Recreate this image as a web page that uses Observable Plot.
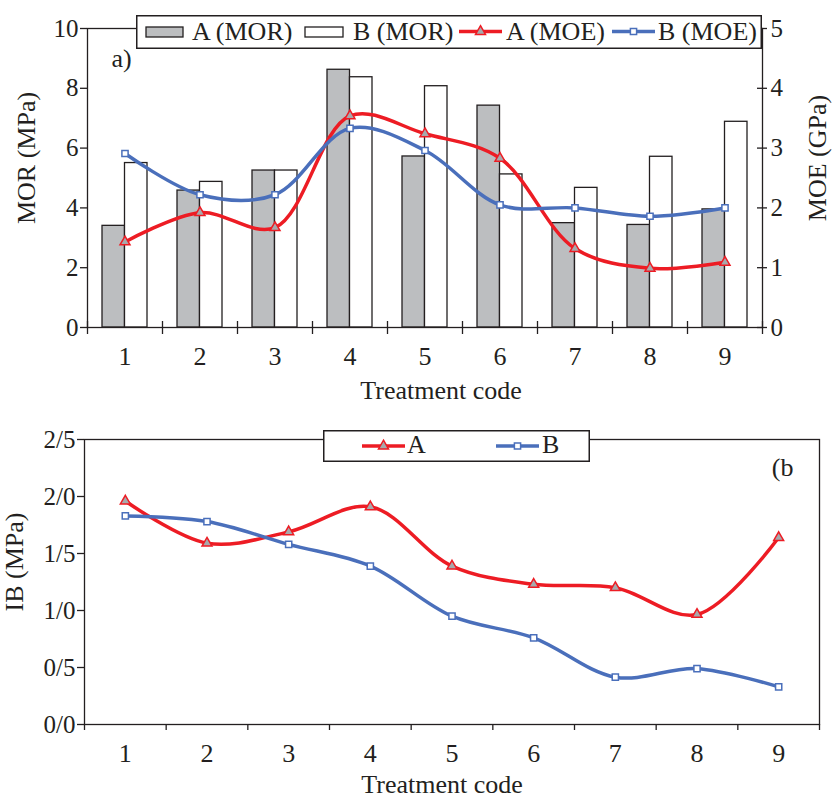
<!DOCTYPE html>
<html><head><meta charset="utf-8">
<script src="https://cdn.jsdelivr.net/npm/d3@7"></script>
<script src="https://cdn.jsdelivr.net/npm/@observablehq/plot@0.6"></script>
<style>
body{margin:0;background:#fff;}
#wrap{position:relative;width:832px;height:798px;font-family:"Liberation Serif","Times New Roman",serif;color:#231f20;}
#wrap > svg{display:block;}
.leg{position:absolute;overflow:visible;}
</style></head><body><div id="wrap"></div>
<script>
// ---- data ----
const codes = [1, 2, 3, 4, 5, 6, 7, 8, 9];
const morA = [3.4, 4.58, 5.25, 8.62, 5.72, 7.42, 3.49, 3.43, 3.95];
const morB = [5.5, 4.87, 5.25, 8.37, 8.07, 5.12, 4.67, 5.71, 6.88];
const moeA = [1.43, 1.92, 1.67, 3.54, 3.24, 2.83, 1.32, 0.99, 1.09];
const moeB = [2.91, 2.22, 2.22, 3.33, 2.96, 2.05, 2.0, 1.86, 2.0];
const ibA = [1.96, 1.59, 1.69, 1.91, 1.39, 1.23, 1.20, 0.965, 1.64];
const ibB = [1.83, 1.78, 1.58, 1.39, 0.95, 0.76, 0.415, 0.49, 0.33];
const morTicks = [0, 2, 4, 6, 8, 10];
const moeTicks = [0, 1, 2, 3, 4, 5];
const ibTicks = [0, 0.5, 1, 1.5, 2, 2.5];
const ibTickLabels = ["0/0", "0/5", "1/0", "1/5", "2/0", "2/5"];
const topLegend = ["A (MOR)", "B (MOR)", "A (MOE)", "B (MOE)"];
const botLegend = ["A", "B"];

// ---- style ----
const INK = "#231f20", RED = "#ed1c24", BLUE = "#4a6fbb", GRAY = "#bcbec0", TRI = "#a7a9ac";
const FONT = '"Liberation Serif","Times New Roman",serif';
const FS = 26;

const boundaries = codes.map(c => c - 0.5).concat([codes[codes.length - 1] + 0.5]);
const rowsMor = codes.map((c, i) => ({code: c, A: morA[i], B: morB[i]}));
const rowsMoeA = codes.map((c, i) => ({code: c, v: moeA[i]}));
const rowsMoeB = codes.map((c, i) => ({code: c, v: moeB[i]}));
const rowsIbA = codes.map((c, i) => ({code: c, v: ibA[i]}));
const rowsIbB = codes.map((c, i) => ({code: c, v: ibB[i]}));

const wrap = document.getElementById("wrap");

const topChart = Plot.plot({
  width: 832, height: 410,
  marginTop: 28, marginBottom: 83, marginLeft: 87, marginRight: 70,
  x: {domain: [0.5, 9.5]},
  y: {domain: [0, 10]},
  style: {fontFamily: FONT, fontSize: FS + "px", color: INK, background: "#fff"},
  marks: [
    Plot.rectY(rowsMor, {x1: d => d.code - 0.3, x2: d => d.code, y1: 0, y2: "A", fill: GRAY, stroke: INK, strokeWidth: 1.3}),
    Plot.rectY(rowsMor, {x1: d => d.code, x2: d => d.code + 0.3, y1: 0, y2: "B", fill: "#fff", stroke: INK, strokeWidth: 1.3}),
    Plot.frame({stroke: INK, strokeWidth: 1.3}),
    Plot.axisY(morTicks, {anchor: "left", tickSize: 7, tickPadding: 2, fontSize: 25, stroke: INK, strokeWidth: 1.3, label: null}),
    Plot.axisY(moeTicks.map(t => t * 2), {anchor: "right", tickSize: 0, tickPadding: 8, fontSize: 25, tickFormat: d => String(d / 2), label: null}),
    Plot.ruleY(moeTicks.map(t => t * 2), {y: d => d, x1: 9.5, x2: 9.5, insetLeft: -5, insetRight: -5, stroke: INK, strokeWidth: 1.3}),
    Plot.ruleX(boundaries, {x: d => d, y1: 0, y2: 0, insetTop: -6, insetBottom: -7, stroke: INK, strokeWidth: 1.3}),
    Plot.axisX(codes, {tickSize: 0, tickPadding: 19, fontSize: FS, label: null}),
    Plot.line(rowsMoeA, {x: "code", y: d => d.v * 2, curve: "catmull-rom", stroke: RED, strokeWidth: 3.5}),
    Plot.line(rowsMoeB, {x: "code", y: d => d.v * 2, curve: "catmull-rom", stroke: BLUE, strokeWidth: 3.5}),
    Plot.dot(rowsMoeA, {x: "code", y: d => d.v * 2, symbol: "triangle", r: 3.7, fill: TRI, stroke: RED, strokeWidth: 1.5}),
    Plot.dot(rowsMoeB, {x: "code", y: d => d.v * 2, symbol: "square", r: 3.5, fill: "#fff", stroke: BLUE, strokeWidth: 1.5}),
    Plot.text(["MOR (MPa)"], {frameAnchor: "left", text: d => d, rotate: -90, textAnchor: "middle", lineAnchor: "middle", dx: -61, dy: -20, fontSize: FS, fill: INK}),
    Plot.text(["MOE (GPa)"], {frameAnchor: "right", text: d => d, rotate: -90, textAnchor: "middle", lineAnchor: "middle", dx: 55, dy: -20, fontSize: FS, fill: INK}),
    Plot.text(["Treatment code"], {frameAnchor: "bottom", text: d => d, lineAnchor: "middle", dx: 16, dy: 63, fontSize: FS, fill: INK}),
    Plot.text(["a)"], {frameAnchor: "top-left", text: d => d, textAnchor: "start", lineAnchor: "middle", dx: 24, dy: 30, fontSize: FS, fill: INK})
  ]
});
wrap.appendChild(topChart);

const botChart = Plot.plot({
  width: 832, height: 388,
  marginTop: 29, marginBottom: 74, marginLeft: 84, marginRight: 13,
  x: {domain: [0.5, 9.5]},
  y: {domain: [0, 2.5]},
  style: {fontFamily: FONT, fontSize: FS + "px", color: INK, background: "#fff"},
  marks: [
    Plot.frame({stroke: INK, strokeWidth: 1.3}),
    Plot.axisY(ibTicks, {anchor: "left", tickSize: 7, tickPadding: 2, fontSize: 25, stroke: INK, strokeWidth: 1.3,
      tickFormat: d => ibTickLabels[ibTicks.indexOf(d)], label: null}),
    Plot.axisX(boundaries, {tickSize: 6, tickFormat: () => "", stroke: INK, strokeWidth: 1.3, label: null}),
    Plot.axisX(codes, {tickSize: 0, tickPadding: 19, fontSize: FS, label: null}),
    Plot.line(rowsIbA, {x: "code", y: "v", curve: "catmull-rom", stroke: RED, strokeWidth: 3.5}),
    Plot.line(rowsIbB, {x: "code", y: "v", curve: "catmull-rom", stroke: BLUE, strokeWidth: 3.5}),
    Plot.dot(rowsIbA, {x: "code", y: "v", symbol: "triangle", r: 3.7, fill: TRI, stroke: RED, strokeWidth: 1.5}),
    Plot.dot(rowsIbB, {x: "code", y: "v", symbol: "square", r: 3.5, fill: "#fff", stroke: BLUE, strokeWidth: 1.5}),
    Plot.text(["IB (MPa)"], {frameAnchor: "left", text: d => d, rotate: -90, textAnchor: "middle", lineAnchor: "middle", dx: -70, dy: -20, fontSize: FS, fill: INK}),
    Plot.text(["Treatment code"], {frameAnchor: "bottom", text: d => d, lineAnchor: "middle", dx: -10, dy: 60, fontSize: FS, fill: INK}),
    Plot.text(["(b"], {frameAnchor: "top-right", text: d => d, textAnchor: "end", lineAnchor: "middle", dx: -26, dy: 28, fontSize: FS, fill: INK})
  ]
});
wrap.appendChild(botChart);

// ---- legends ----
function makeLegend(left, top, w, h) {
  const svg = d3.select(wrap).append("svg").attr("class", "leg")
    .style("left", left + "px").style("top", top + "px")
    .attr("width", w).attr("height", h);
  svg.append("rect").attr("x", 0.75).attr("y", 0.75).attr("width", w - 1.5).attr("height", h - 1.5)
    .attr("fill", "#fff").attr("stroke", INK).attr("stroke-width", 1.5);
  return svg;
}
function lineSwatch(svg, x1, x2, y, color, sym) {
  svg.append("line").attr("x1", x1).attr("x2", x2).attr("y1", y).attr("y2", y)
    .attr("stroke", color).attr("stroke-width", 3.5);
  const cx = (x1 + x2) / 2;
  if (sym === "triangle") {
    svg.append("path").attr("d", d3.symbol(d3.symbolTriangle, 3.7 * 3.7 * Math.PI)())
      .attr("transform", `translate(${cx},${y})`).attr("fill", TRI).attr("stroke", color).attr("stroke-width", 1.5);
  } else {
    svg.append("path").attr("d", d3.symbol(d3.symbolSquare, 3.5 * 3.5 * Math.PI)())
      .attr("transform", `translate(${cx},${y})`).attr("fill", "#fff").attr("stroke", color).attr("stroke-width", 1.5);
  }
}
function label(svg, x, y, t) {
  svg.append("text").attr("x", x).attr("y", y).text(t)
    .attr("font-family", FONT).attr("font-size", FS).attr("fill", INK);
}

const lt = makeLegend(136, 15, 626, 34);
lt.append("rect").attr("x", 10).attr("y", 12).attr("width", 37).attr("height", 10).attr("fill", GRAY).attr("stroke", INK).attr("stroke-width", 1.3);
label(lt, 56, 25, topLegend[0]);
lt.append("rect").attr("x", 169).attr("y", 12).attr("width", 38).attr("height", 10).attr("fill", "#fff").attr("stroke", INK).attr("stroke-width", 1.3);
label(lt, 217, 25, topLegend[1]);
lineSwatch(lt, 323, 366, 16.5, RED, "triangle");
label(lt, 370, 25, topLegend[2]);
lineSwatch(lt, 476, 519, 16.5, BLUE, "square");
label(lt, 522, 25, topLegend[3]);

const lb = makeLegend(323, 430, 267, 32);
lineSwatch(lb, 39, 82, 16, RED, "triangle");
label(lb, 84, 23, botLegend[0]);
lineSwatch(lb, 173, 216, 16, BLUE, "square");
label(lb, 219, 23, botLegend[1]);
</script></body></html>
